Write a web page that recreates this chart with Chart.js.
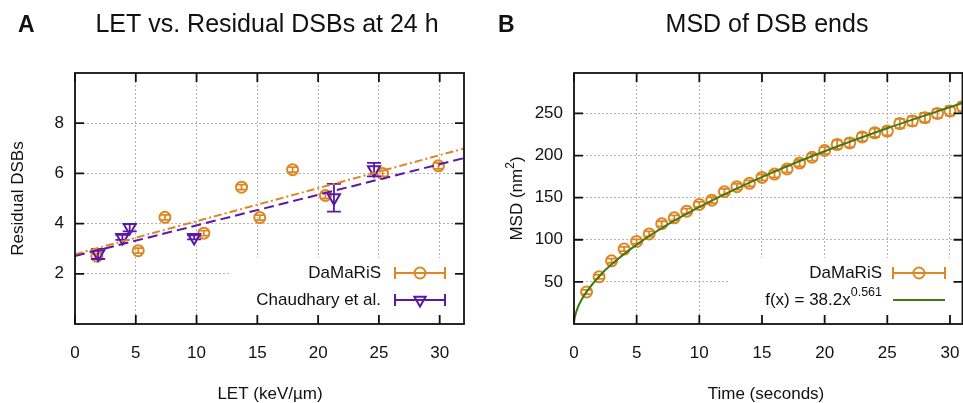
<!DOCTYPE html>
<html>
<head>
<meta charset="utf-8">
<script src="https://cdn.jsdelivr.net/npm/chart.js@4.4.1/dist/chart.umd.min.js"></script>
<style>
  html, body { margin: 0; padding: 0; background: #fff; overflow: hidden; }
  #wrap { position: relative; width: 963px; height: 403px; overflow: hidden; }
  .panel { position: absolute; top: 0; height: 403px; }
  #panelA { left: 0; width: 482px; }
  /* a little wider than the window: the plot runs off the right edge like the original */
  #panelB { left: 482px; width: 488px; }
</style>
</head>
<body>
<div id="wrap">
  <div class="panel" id="panelA"><canvas id="letChart"></canvas></div>
  <div class="panel" id="panelB"><canvas id="msdChart"></canvas></div>
</div>
<script>
// Panel A: LET vs. residual DSBs at 24 h
const letDamaris = [1.8, 5.2, 7.4, 10.6, 13.7, 15.2, 17.9, 20.6, 25.3, 29.9];
const dsbDamaris = [2.7, 2.92, 4.25, 3.62, 5.45, 4.24, 6.15, 5.12, 6.0, 6.3];
const errDamaris = [0.1, 0.1, 0.1, 0.1, 0.1, 0.1, 0.1, 0.12, 0.12, 0.12];
const letChaudhary = [1.9, 3.9, 4.5, 9.8, 21.3, 24.6];
const dsbChaudhary = [2.79, 3.45, 3.84, 3.45, 5.03, 6.15];
const errChaudhary = [0.2, 0.1, 0.15, 0.08, 0.55, 0.27];
const fitLet = [0, 32];
const fitDamaris = [2.78, 6.99];
const fitChaudhary = [2.71, 6.61];
const letTicks = [0, 5, 10, 15, 20, 25, 30];
const dsbTicks = [2, 4, 6, 8];

// Panel B: MSD of DSB ends
const timeSeconds = [1, 2, 3, 4, 5, 6, 7, 8, 9, 10, 11, 12, 13, 14, 15, 16,
  17, 18, 19, 20, 21, 22, 23, 24, 25, 26, 27, 28, 29, 30, 31];
const msdDamaris = [38, 56, 75, 89, 98, 107, 119, 126, 134, 142, 147, 157, 163,
  167, 174, 178, 184, 191, 198, 206, 213, 215, 222, 227, 229, 238, 241, 245,
  250, 253, 258];
const errMsd = [2.5, 2.5, 2.5, 2.5, 2.5, 3, 3, 3, 3, 3, 3.5, 3.5, 3.5, 3.5,
  3.5, 4, 4, 4, 4, 4, 5, 5, 5, 5, 5, 5.5, 5.5, 5.5, 5.5, 5.5, 5.5];
const fitTime = [0, 0.02, 0.05, 0.1, 0.3, 0.6, 1, 2, 3, 5, 8, 12, 16, 20, 25, 31];
const fitMsd = [0, 4.3, 7.1, 10.5, 19.4, 28.7, 38.2, 56.4, 70.8, 94.2, 122.7,
  154.0, 181.0, 205.1, 232.4, 262.3];
const timeTicks = [0, 5, 10, 15, 20, 25, 30];
const msdTicks = [50, 100, 150, 200, 250];

const orange = "#de8624";
const purple = "#5a18a6";
const green = "#3f7a14";
const gridColor = "#b4b4b4";
const font = "'Liberation Sans', Arial, Helvetica, sans-serif";

Chart.defaults.font.family = font;
Chart.defaults.font.size = 17;
Chart.defaults.color = "#111";

const toPoints = (xs, ys) => xs.map((x, i) => ({ x: x, y: ys[i] }));

// vertical error bars with caps, drawn through the y scale
const errorBars = {
  id: "errorBars",
  afterDatasetDraw(chart, args) {
    const ds = chart.data.datasets[args.index];
    if (!ds.errors) return;
    const yScale = chart.scales.y;
    const ctx = chart.ctx;
    const w = ds.capWidth / 2;
    ctx.save();
    ctx.strokeStyle = ds.borderColor;
    ctx.lineWidth = 1.8;
    args.meta.data.forEach((pt, i) => {
      const v = ds.data[i].y;
      const top = yScale.getPixelForValue(v + ds.errors[i]);
      const bot = yScale.getPixelForValue(v - ds.errors[i]);
      ctx.beginPath();
      ctx.moveTo(pt.x, top);
      ctx.lineTo(pt.x, bot);
      ctx.moveTo(pt.x - w, top);
      ctx.lineTo(pt.x + w, top);
      ctx.moveTo(pt.x - w, bot);
      ctx.lineTo(pt.x + w, bot);
      ctx.stroke();
    });
    ctx.restore();
  },
};

const drawSample = (ctx, item, x1, x2, y) => {
  ctx.save();
  ctx.strokeStyle = item.color;
  ctx.fillStyle = "rgba(0,0,0,0)";
  ctx.lineWidth = 2;
  ctx.beginPath();
  ctx.moveTo(x1, y);
  ctx.lineTo(x2, y);
  if (item.marker) {
    ctx.moveTo(x1, y - 6);
    ctx.lineTo(x1, y + 6);
    ctx.moveTo(x2, y - 6);
    ctx.lineTo(x2, y + 6);
  }
  ctx.stroke();
  if (item.marker) {
    Chart.helpers.drawPoint(ctx, {
      pointStyle: item.marker,
      rotation: item.marker === "triangle" ? 180 : 0,
      radius: item.marker === "triangle" ? 6.5 : 5.5,
      borderWidth: 2,
    }, (x1 + x2) / 2, y);
  }
  ctx.restore();
};

// gnuplot-like frame: border, inward ticks, titles and the key
const frame = {
  id: "frame",
  beforeDatasetsDraw(chart, args, opts) {
    // the key box is opaque in the original
    const { ctx, chartArea: a } = chart;
    ctx.save();
    ctx.fillStyle = "#fff";
    ctx.fillRect(opts.keyLeft, opts.keyTop, a.right - opts.keyLeft - 1, a.bottom - opts.keyTop - 1);
    ctx.restore();
  },
  afterDraw(chart, args, opts) {
    const { ctx, chartArea: a, scales } = chart;
    const tick = 9;
    ctx.save();
    ctx.strokeStyle = "#111";
    ctx.lineWidth = 1.8;
    ctx.strokeRect(a.left, a.top, a.right - a.left, a.bottom - a.top);
    ctx.beginPath();
    opts.xTicks.forEach((v) => {
      const px = scales.x.getPixelForValue(v);
      ctx.moveTo(px, a.bottom);
      ctx.lineTo(px, a.bottom - tick);
      ctx.moveTo(px, a.top);
      ctx.lineTo(px, a.top + tick);
    });
    opts.yTicks.forEach((v) => {
      const py = scales.y.getPixelForValue(v);
      ctx.moveTo(a.left, py);
      ctx.lineTo(a.left + tick, py);
      ctx.moveTo(a.right, py);
      ctx.lineTo(a.right - tick, py);
    });
    ctx.stroke();

    ctx.fillStyle = "#111";
    ctx.textBaseline = "alphabetic";
    ctx.font = "bold 23px " + font;
    ctx.textAlign = "left";
    ctx.fillText(opts.panel, opts.panelX, 32);
    ctx.font = "25px " + font;
    ctx.textAlign = "center";
    ctx.fillText(opts.title, opts.titleX, 32);

    ctx.font = "17px " + font;
    ctx.fillText(opts.xTitle, opts.xTitleX, 399);
    ctx.save();
    ctx.translate(opts.yTitleX, (a.top + a.bottom) / 2);
    ctx.rotate(-Math.PI / 2);
    ctx.textBaseline = "middle";
    if (opts.yTitleSup) {
      const base = ctx.measureText(opts.yTitle).width;
      ctx.font = "12px " + font;
      const sup = ctx.measureText(opts.yTitleSup).width;
      ctx.font = "17px " + font;
      const close = ctx.measureText(")").width;
      const total = base + sup + close;
      ctx.textAlign = "left";
      ctx.fillText(opts.yTitle, -total / 2, 0);
      ctx.font = "12px " + font;
      ctx.fillText(opts.yTitleSup, -total / 2 + base, -6);
      ctx.font = "17px " + font;
      ctx.fillText(")", -total / 2 + base + sup, 0);
    } else {
      ctx.fillText(opts.yTitle, 0, 0);
    }
    ctx.restore();

    // key
    ctx.textBaseline = "middle";
    ctx.textAlign = "right";
    opts.key.forEach((item, i) => {
      const y = opts.keyRowY + i * 27;
      ctx.font = "17px " + font;
      if (item.sup) {
        ctx.font = "12.5px " + font;
        const supW = ctx.measureText(item.sup).width;
        ctx.fillText(item.sup, opts.keyTextRight, y - 7);
        ctx.font = "17px " + font;
        ctx.fillText(item.label, opts.keyTextRight - supW, y);
      } else {
        ctx.fillText(item.label, opts.keyTextRight, y);
      }
      drawSample(ctx, item, opts.keySample[0], opts.keySample[1], y);
    });
    ctx.restore();
  },
};

const axisX = (min, max, ticks) => ({
  type: "linear",
  min: min,
  max: max,
  afterBuildTicks: (s) => {
    s.ticks = ticks.map((v) => ({ value: v }));
  },
  afterFit: (s) => {
    s.height = 79;
    s.paddingLeft = 0;
    s.paddingRight = 0;
  },
  grid: { color: gridColor, lineWidth: 1, drawTicks: false },
  border: { display: false, dash: [2, 2] },
  ticks: { padding: 19, font: { size: 17 } },
});

const axisY = (min, max, ticks, width) => ({
  type: "linear",
  min: min,
  max: max,
  afterBuildTicks: (s) => {
    s.ticks = ticks.map((v) => ({ value: v }));
  },
  afterFit: (s) => {
    s.width = width;
  },
  grid: { color: gridColor, lineWidth: 1, drawTicks: false },
  border: { display: false, dash: [2, 2] },
  ticks: { padding: 11, font: { size: 17 } },
});

const baseOptions = {
  responsive: true,
  maintainAspectRatio: false,
  animation: false,
  devicePixelRatio: 1,
};

const letConfig = {
  type: "scatter",
  data: {
    datasets: [
      {
        label: "Chaudhary fit",
        data: toPoints(fitLet, fitChaudhary),
        showLine: true,
        borderColor: purple,
        borderWidth: 2,
        borderDash: [10, 5],
        pointRadius: 0,
      },
      {
        label: "DaMaRiS fit",
        data: toPoints(fitLet, fitDamaris),
        showLine: true,
        borderColor: orange,
        borderWidth: 2,
        borderDash: [8, 3, 2, 3],
        pointRadius: 0,
      },
      {
        label: "Chaudhary et al.",
        data: toPoints(letChaudhary, dsbChaudhary),
        errors: errChaudhary,
        capWidth: 14,
        borderColor: purple,
        backgroundColor: "transparent",
        pointStyle: "triangle",
        pointRotation: 180,
        pointRadius: 7,
        pointBorderWidth: 2,
      },
      {
        label: "DaMaRiS",
        data: toPoints(letDamaris, dsbDamaris),
        errors: errDamaris,
        capWidth: 10,
        borderColor: orange,
        backgroundColor: "transparent",
        pointStyle: "circle",
        pointRadius: 5.5,
        pointBorderWidth: 2,
      },
    ],
  },
  options: {
    ...baseOptions,
    layout: { padding: { left: 0, right: 18, top: 73, bottom: 0 } },
    scales: {
      x: axisX(0, 32, letTicks),
      y: axisY(0, 10, dsbTicks, 75),
    },
    plugins: {
      legend: { display: false },
      tooltip: { enabled: false },
      frame: {
        panel: "A",
        panelX: 18,
        title: "LET vs. Residual DSBs at 24 h",
        titleX: 267,
        xTitle: "LET (keV/\u00b5m)",
        xTitleX: 270,
        yTitle: "Residual DSBs",
        yTitleX: 18,
        xTicks: letTicks,
        yTicks: dsbTicks,
        keyLeft: 230,
        keyTop: 258,
        keyRowY: 273,
        keyTextRight: 381,
        keySample: [395, 445],
        key: [
          { label: "DaMaRiS", color: orange, marker: "circle" },
          { label: "Chaudhary et al.", color: purple, marker: "triangle" },
        ],
      },
    },
  },
  plugins: [errorBars, frame],
};

const msdConfig = {
  type: "scatter",
  data: {
    datasets: [
      {
        label: "fit",
        data: toPoints(fitTime, fitMsd),
        showLine: true,
        borderColor: green,
        borderWidth: 2,
        cubicInterpolationMode: "monotone",
        pointRadius: 0,
      },
      {
        label: "DaMaRiS",
        data: toPoints(timeSeconds, msdDamaris),
        errors: errMsd,
        capWidth: 10,
        borderColor: orange,
        backgroundColor: "transparent",
        pointStyle: "circle",
        pointRadius: 5.5,
        pointBorderWidth: 2,
      },
    ],
  },
  options: {
    ...baseOptions,
    layout: { padding: { left: 0, right: 0, top: 73, bottom: 0 } },
    scales: {
      x: axisX(0, 31, timeTicks),
      y: axisY(0, 298, msdTicks, 92),
    },
    plugins: {
      legend: { display: false },
      tooltip: { enabled: false },
      frame: {
        panel: "B",
        panelX: 16,
        title: "MSD of DSB ends",
        titleX: 285,
        xTitle: "Time (seconds)",
        xTitleX: 284,
        yTitle: "MSD (nm",
        yTitleSup: "2",
        yTitleX: 35,
        xTicks: timeTicks,
        yTicks: msdTicks,
        keyLeft: 246,
        keyTop: 258,
        keyRowY: 273,
        keyTextRight: 400,
        keySample: [411, 463],
        key: [
          { label: "DaMaRiS", color: orange, marker: "circle" },
          { label: "f(x) = 38.2x", sup: "0.561", color: green },
        ],
      },
    },
  },
  plugins: [errorBars, frame],
};

// eslint-disable-next-line no-undef
new Chart(document.getElementById("letChart"), letConfig);
// eslint-disable-next-line no-undef
new Chart(document.getElementById("msdChart"), msdConfig);
</script>
</body>
</html>
